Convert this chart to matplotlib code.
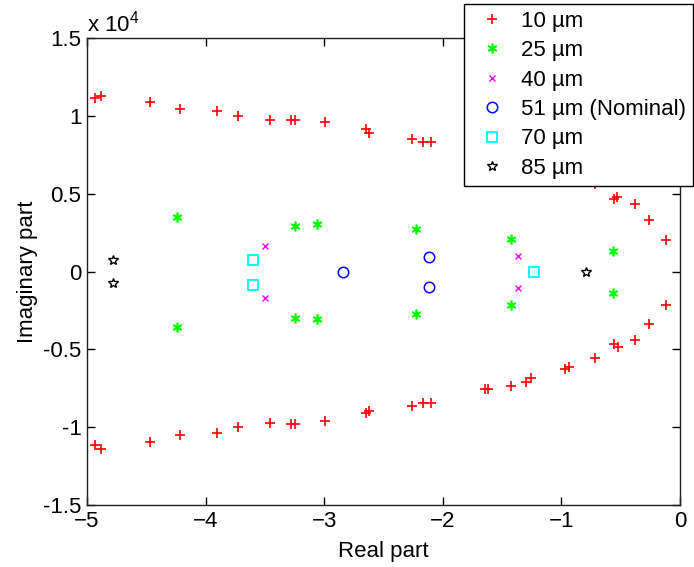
import matplotlib
matplotlib.use("Agg")
import numpy as np
import matplotlib.pyplot as plt
from matplotlib.ticker import FuncFormatter

plt.rcParams['font.family'] = ['Liberation Sans', 'DejaVu Sans']
plt.rcParams['mathtext.default'] = 'regular'

# poles for each gap size: real part, imaginary part (x 1e4)
re_10 = [-4.934, -4.886, -4.465, -4.212, -3.902, -3.729, -3.459, -3.284, -3.250, -2.995,
         -2.649, -2.621, -2.258, -2.165, -2.104, -1.648, -1.620, -1.423, -1.297, -1.255,
         -0.974, -0.938, -0.718, -0.558, -0.529, -0.384, -0.263, -0.120,
         -0.122, -0.263, -0.384, -0.558, -0.524, -0.715, -0.974, -0.938, -1.297, -1.255,
         -1.423, -1.648, -1.620, -2.258, -2.165, -2.098, -2.649, -2.624, -2.995, -3.284,
         -3.250, -3.459, -3.729, -3.902, -4.212, -4.465, -4.934, -4.886]
im_10 = [1.113, 1.128, 1.088, 1.043, 1.034, 0.996, 0.970, 0.972, 0.972, 0.960,
         0.915, 0.889, 0.853, 0.831, 0.831, 0.756, 0.756, 0.735, 0.710, 0.684,
         0.628, 0.615, 0.564, 0.466, 0.479, 0.434, 0.331, 0.205,
         -0.216, -0.335, -0.440, -0.468, -0.485, -0.556, -0.628, -0.615, -0.710, -0.684,
         -0.735, -0.756, -0.756, -0.863, -0.842, -0.842, -0.912, -0.896, -0.963, -0.981,
         -0.981, -0.976, -1.002, -1.040, -1.051, -1.092, -1.115, -1.137]

re_25 = [-4.245, -4.245, -3.245, -3.065, -3.245, -3.065, -2.230, -2.230, -1.423, -1.423, -0.567, -0.567]
im_25 = [0.348, -0.355, 0.295, 0.303, -0.299, -0.308, 0.271, -0.276, 0.210, -0.216, 0.133, -0.139]

re_40 = [-3.501, -3.501, -1.364, -1.364]
im_40 = [0.162, -0.169, 0.101, -0.109]

re_51 = [-2.843, -2.118, -2.118]
im_51 = [0.0, 0.092, -0.101]

re_70 = [-3.602, -3.602, -1.235]
im_70 = [0.077, -0.085, 0.0]

re_85 = [-4.782, -4.782, -0.791]
im_85 = [0.072, -0.072, 0.0]

scale = 1e4
fs = 16

fig = plt.figure(figsize=(6.94, 5.67), dpi=100)
ax = fig.add_axes([0.1254, 0.1093, 0.8545, 0.8237])

ax.plot(re_10, np.array(im_10) * scale, '+', color='#ff0000', ms=7, mew=1.2, ls='none', label='10 µm')
ax.plot(re_25, np.array(im_25) * scale, marker=(6, 2, 0), color='#00ff00', ms=7, mew=1.2, ls='none', label='25 µm')
ax.plot(re_40, np.array(im_40) * scale, 'x', color='#ff00ff', ms=4.5, mew=1.0, ls='none', label='40 µm')
ax.plot(re_51, np.array(im_51) * scale, 'o', mfc='none', mec='#0000ff', ms=7.5, mew=1.1, ls='none', label='51 µm (Nominal)')
ax.plot(re_70, np.array(im_70) * scale, 's', mfc='none', mec='#00ffff', ms=7.5, mew=1.4, ls='none', label='70 µm')
ax.plot(re_85, np.array(im_85) * scale, '*', mfc='none', mec='black', ms=7.5, mew=1.0, ls='none', label='85 µm')

ax.set_xlim(-5, 0)
ax.set_ylim(-1.5 * scale, 1.5 * scale)
ax.set_xticks([-5, -4, -3, -2, -1, 0])
ax.set_yticks(np.arange(-1.5, 1.51, 0.5) * scale)
ax.yaxis.set_major_formatter(FuncFormatter(lambda v, p: '%g' % (v / scale)))
ax.tick_params(direction='in', length=6, width=1, top=True, right=True, labelsize=fs, pad=4)
for s in ax.spines.values():
    s.set_linewidth(1.0)
    s.set_color('#222222')

ax.text(0.0, 1.004, 'x 10$^4$', transform=ax.transAxes, fontsize=fs, ha='left', va='bottom')
ax.set_xlabel('Real part', fontsize=fs, labelpad=7)
ax.set_ylabel('Imaginary part', fontsize=fs, labelpad=4)

leg = ax.legend(loc='upper right', bbox_to_anchor=(693 / 694, 1 - 4 / 567),
                bbox_transform=fig.transFigure, fontsize=fs, frameon=True, fancybox=False,
                framealpha=1, edgecolor='black', borderpad=0.3, labelspacing=0.38,
                handlelength=2.0, handletextpad=0.3, borderaxespad=0)
leg.get_frame().set_linewidth(1.0)

plt.savefig("out.png", dpi=100)
